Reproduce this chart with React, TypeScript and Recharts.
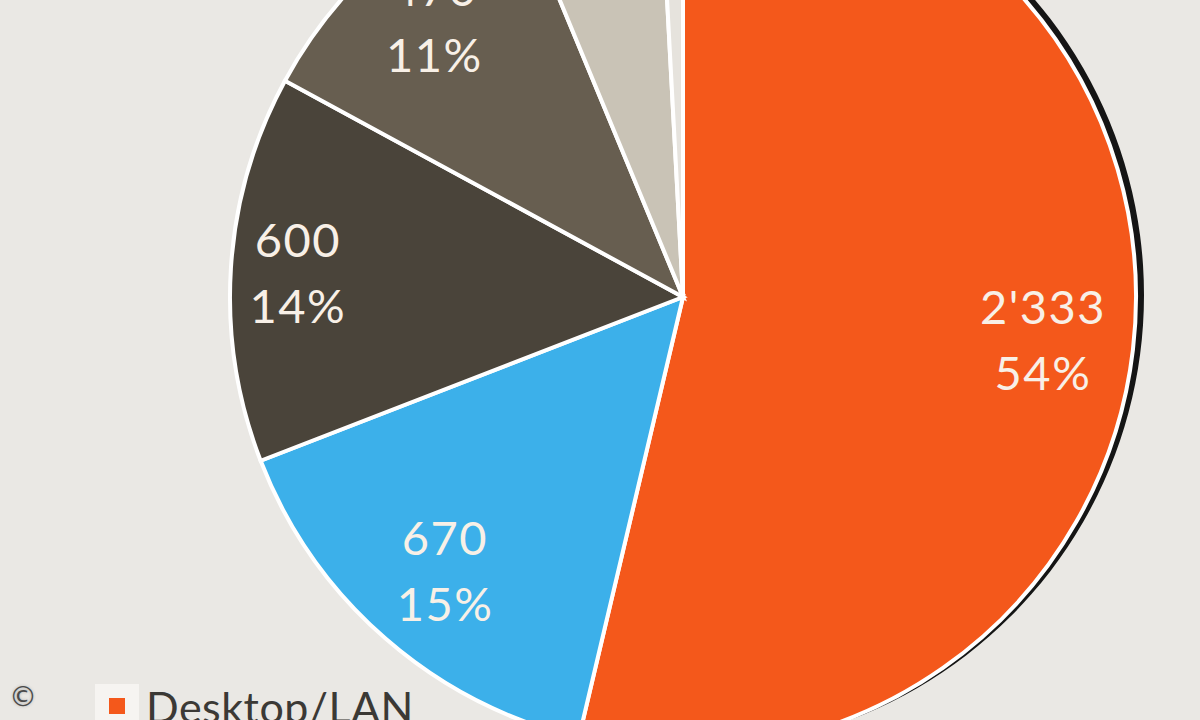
import React from "react";
import { PieChart, Pie, Cell, Legend } from "recharts";

// ----------------------------- Data -----------------------------
const categories = ["Desktop/LAN", "Notebook/WLAN", "Smartphone", "Tablet", "Andere", "Keine Angabe"];
const values = [2333, 670, 600, 470, 235, 37];
const colors = ["#f4581b", "#3cb0ea", "#4a443a", "#675e50", "#c9c3b6", "#e6e3dd"];

const data = categories.map((name, i) => ({ name, value: values[i] }));
const shadowData = [{ name: "shadow", value: 1 }];

// label distance (fraction of radius) per slice
const labelRadius = [0.8, 0.8, 0.852, 0.82, 0.8, 0.8];

const BG = "#eae8e4";
const CX = 683;
const CY = 297;
const R = 453;
const RAD = Math.PI / 180;

const fmt = (v: number) => String(v).replace(/\B(?=(\d{3})+(?!\d))/g, "'");

const renderLabel = (props: any) => {
  const { cx, cy, midAngle, outerRadius, index, value, percent } = props;
  if (percent < 0.03) return null;
  const r = outerRadius * (labelRadius[index] ?? 0.8);
  const x = cx + r * Math.cos(-midAngle * RAD);
  const y = cy + r * Math.sin(-midAngle * RAD);
  const style = {
    fontFamily: "Lato, 'Open Sans', sans-serif",
    fontSize: 47,
    letterSpacing: 1.5,
    fill: "#f8f0e7",
  };
  return (
    <g>
      <text x={x} y={y - 33} textAnchor="middle" dominantBaseline="central" style={style}>
        {fmt(value)}
      </text>
      <text x={x} y={y + 33} textAnchor="middle" dominantBaseline="central" style={style}>
        {Math.round(percent * 100)}%
      </text>
    </g>
  );
};

const renderLegend = () => {
  const i = 0; // only the first entry is visible in the frame
  return (
    <div style={{ display: "flex", alignItems: "flex-start", fontFamily: "Lato, 'Open Sans', sans-serif" }}>
      <div
        style={{
          width: 44,
          height: 44,
          background: "#f6f4f1",
          display: "flex",
          justifyContent: "center",
          alignItems: "center",
        }}
      >
        <div style={{ width: 16, height: 16, background: colors[i] }} />
      </div>
      <span style={{ fontSize: 43, color: "#3b3935", marginLeft: 7, lineHeight: "46px", letterSpacing: 0.5 }}>
        {categories[i]}
      </span>
    </div>
  );
};

export default function App() {
  return (
    <div
      style={{
        position: "absolute",
        left: 0,
        top: 0,
        width: 1200,
        height: 720,
        overflow: "hidden",
        background: BG,
      }}
    >
      <PieChart width={1200} height={720} margin={{ top: 0, right: 0, bottom: 0, left: 0 }}>
        {/* drop shadow behind the pie */}
        <Pie
          data={shadowData}
          dataKey="value"
          cx={CX + 7}
          cy={CY - 2}
          outerRadius={R + 1}
          stroke="none"
          fill="#151515"
          legendType="none"
          isAnimationActive={false}
        />
        <Pie
          data={data}
          dataKey="value"
          cx={CX}
          cy={CY}
          outerRadius={R}
          startAngle={90}
          endAngle={-270}
          stroke="#ffffff"
          strokeWidth={4}
          label={renderLabel}
          labelLine={false}
          isAnimationActive={false}
        >
          {data.map((d, i) => (
            <Cell key={d.name} fill={colors[i]} />
          ))}
        </Pie>
        <Legend
          content={renderLegend}
          wrapperStyle={{ position: "absolute", left: 95, top: 684, width: 440 }}
        />
      </PieChart>
      <div
        style={{
          position: "absolute",
          left: 9,
          top: 680,
          fontSize: 28,
          color: "#4a4a4a",
          fontFamily: "'DejaVu Sans', sans-serif",
          textShadow: "0 0 3px #aaa",
        }}
      >
        ©
      </div>
    </div>
  );
}
